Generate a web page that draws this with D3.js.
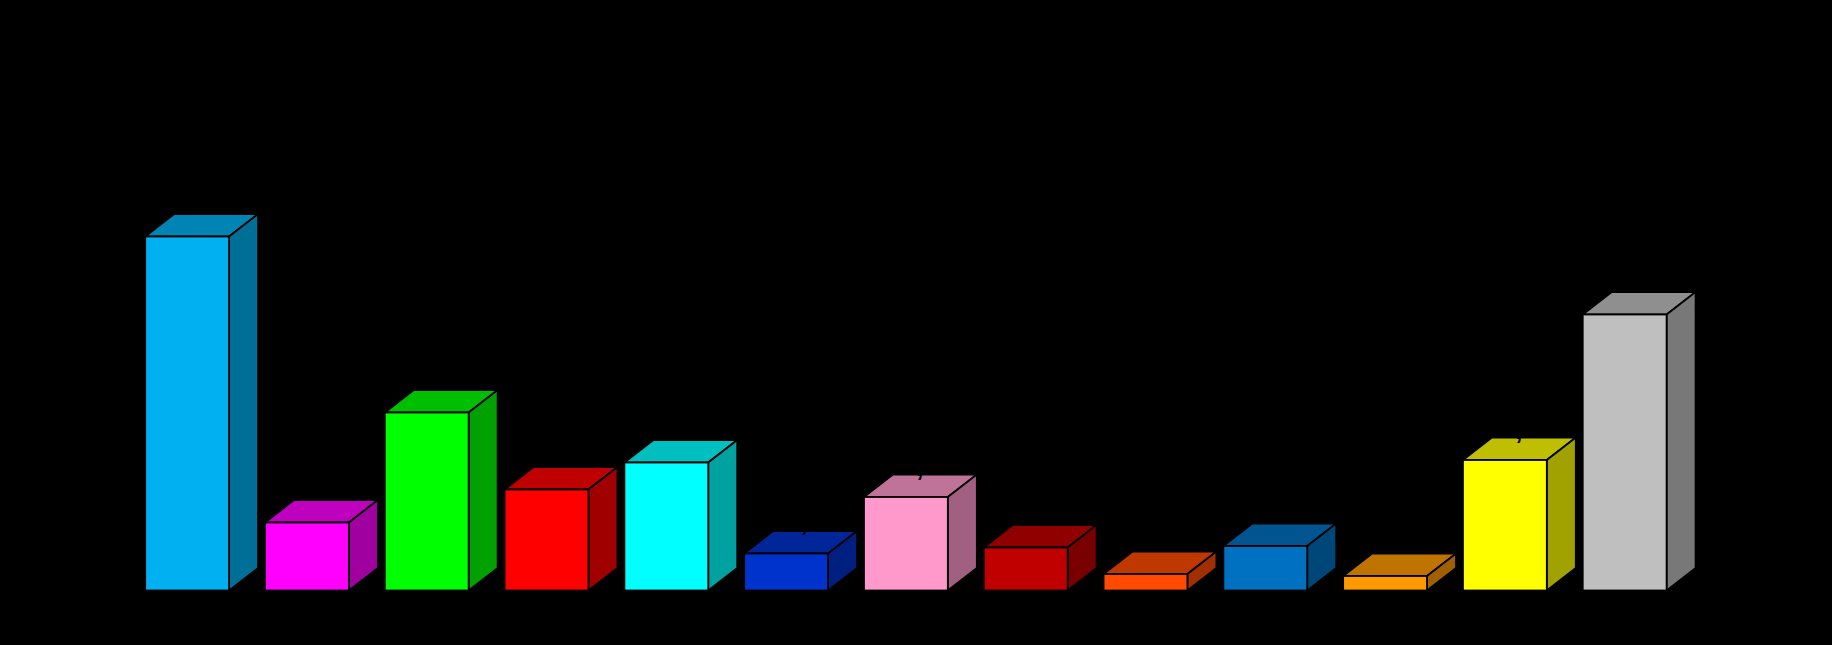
<!DOCTYPE html>
<html>
<head>
<meta charset="utf-8">
<style>
html,body{margin:0;padding:0;background:#000;}
svg{display:block;}
</style>
<script src="https://cdn.jsdelivr.net/npm/d3@7/dist/d3.min.js"></script>
</head>
<body>
<svg id="chart" width="1832" height="645"></svg>
<script>
const categories = ["A","B","C","D","E","F","G","H","I","J","K","L","M"];
const values = [354, 68, 178, 101, 128, 37, 93.5, 43, 16.5, 44.5, 14.5, 130.5, 276];
const colors = ["#00B0F0","#FF00FF","#00FF00","#FF0000","#00FFFF","#0033CC","#FF99CC","#C00000","#FF4A00","#0070C0","#FF9900","#FFFF00","#BFBFBF"];
const labelCategories = ["B","F","G","H","L"];
const labelMark = ",";

const width = 1832, height = 645;
const depthX = 29, depthY = 22.5;
const topShade = 0.75, sideShade = 0.63;
const markShift = {B: -22, F: -11, G: -15, H: -3, L: -15};
const markDrop = {B: 1, F: 4, G: 5, H: 1, L: 5};

const svg = d3.select("#chart");
svg.append("rect").attr("width", width).attr("height", height).attr("fill", "#000");

const x = d3.scaleBand().domain(categories).range([145.2, 1666.6]).paddingInner(0.3);
const y = d3.scaleLinear().domain([0, 400]).range([590.5, 190.5]);
const shade = (c, k) => { const r = d3.rgb(c); return d3.rgb(r.r * k, r.g * k, r.b * k).formatHex(); };
const poly = pts => pts.map(p => p.join(",")).join(" ");
const rows = categories.map((c, i) => ({c, v: values[i], color: colors[i]}));

const bar = svg.append("g").selectAll("g").data(rows).join("g");
bar.append("polygon").attr("fill", d => shade(d.color, topShade))
  .attr("points", d => { const l = x(d.c), r = l + x.bandwidth(), t = y(d.v);
    return poly([[l, t], [l + depthX, t - depthY], [r + depthX, t - depthY], [r, t]]); });
bar.append("polygon").attr("fill", d => shade(d.color, sideShade))
  .attr("points", d => { const r = x(d.c) + x.bandwidth(), t = y(d.v), b = y(0);
    return poly([[r, t], [r + depthX, t - depthY], [r + depthX, b - depthY], [r, b]]); });
bar.append("rect").attr("fill", d => d.color)
  .attr("x", d => x(d.c)).attr("y", d => y(d.v))
  .attr("width", x.bandwidth()).attr("height", d => y(0) - y(d.v));
bar.selectAll("polygon,rect").attr("stroke", "#000").attr("stroke-width", 1.8).attr("stroke-linejoin", "miter");

// Black labels on the black page: only their commas touch the bar tops.
svg.append("g").selectAll("text").data(rows.filter(d => labelCategories.includes(d.c))).join("text")
  .attr("x", d => x(d.c) + x.bandwidth() / 2 + depthX + markShift[d.c])
  .attr("y", d => y(d.v) - depthY - 3.8 + markDrop[d.c])
  .attr("text-anchor", "middle")
  .attr("font-family", "Liberation Sans")
  .attr("font-weight", "bold")
  .attr("font-size", 26)
  .attr("fill", "#000")
  .text(labelMark);
</script>
</body>
</html>
